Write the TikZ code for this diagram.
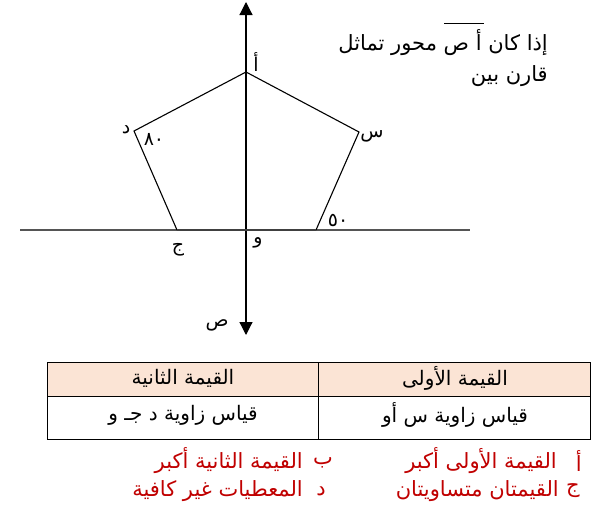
\documentclass[tikz,border=0pt]{standalone}
\usepackage{fontspec}
\usetikzlibrary{arrows.meta}
\TeXXeTstate=1
\newfontfamily\arabicfont[Script=Arabic]{DejaVu Sans}
\definecolor{hdr}{HTML}{FBE4D5}
\definecolor{optred}{HTML}{C00000}
\definecolor{axisgray}{HTML}{555555}
\tikzset{
  ar/.style={font=\arabicfont\fontsize{21}{24}\selectfont, inner sep=0pt},
  tab/.style={font=\arabicfont\fontsize{20}{23}\selectfont, inner sep=0pt},
  lbl/.style={font=\arabicfont\fontsize{19}{22}\selectfont, inner sep=0pt},
  opt/.style={font=\arabicfont\fontsize{21}{24}\selectfont, inner sep=0pt, text=optred, anchor=east},
  axis/.style={line width=1.2pt, -{Triangle[width=13pt,length=13pt]}},
  edge/.style={line width=1.1pt},
  cell/.style={draw, line width=0.9pt}
}
\begin{document}
\begin{tikzpicture}[x=1pt,y=-1pt]
\useasboundingbox (0,0) rectangle (611,517);
% axes
\coordinate (yb) at (246,230);
\coordinate (ytop) at (246,2);
\coordinate (ybot) at (246,335);
\coordinate (xl) at (20,230);
\coordinate (xr) at (470,230);
\draw[line width=1.3pt, axisgray] (xl) -- (xr);
\draw[axis] (yb) -- (ytop);
\draw[axis] (yb) -- (ybot);
% pentagon
\coordinate (A) at (246,72);
\coordinate (D) at (134,131);
\coordinate (S) at (359,132);
\coordinate (J) at (177,230);
\coordinate (E) at (316,230);
\draw[edge, line join=miter] (J) -- (D) -- (A) -- (S) -- (E);
\draw[line width=2.4pt, black!75] (J) -- (E);
% labels
\node[lbl] (lA) at (256,62) {\beginR أ\endR};
\node[lbl] (lD) at (126,130) {\beginR د\endR};
\node[lbl] (l80) at (154,139) {\beginR ٨٠\endR};
\node[lbl] (lS) at (372,136) {\beginR س\endR};
\node[lbl] (l50) at (338,220) {\beginR ٥٠\endR};
\node[lbl] (lJ) at (178,250) {\beginR ج\endR};
\node[lbl] (lW) at (258,243) {\beginR و\endR};
\node[lbl] (lSad) at (217,325) {\beginR ص\endR};
% question text
\node[ar, anchor=east] (q1) at (548,43) {\beginR إذا كان أ ص محور تماثل\endR};
\node[ar, anchor=east] (q2) at (548,76) {\beginR قارن بين\endR};
\coordinate (ol1) at (444,23);
\coordinate (ol2) at (484,23);
\draw[line width=0.9pt] (ol1) -- (ol2);
% table
\fill[hdr] (47,362) rectangle (590,396);
\draw[cell] (47,362) rectangle (590,439);
\draw[cell] (47,396) -- (590,396);
\draw[cell] (318,362) -- (318,439);
\node[tab] (h1) at (455,378) {\beginR القيمة الأولى\endR};
\node[tab] (h2) at (183,378) {\beginR القيمة الثانية\endR};
\node[tab] (c1) at (455,415) {\beginR قياس زاوية س أو\endR};
\node[tab] (c2) at (183,415) {\beginR قياس زاوية د جـ و\endR};
% options
\node[opt] (oa) at (582,461) {\beginR أ\endR};
\node[opt] (ta) at (557,461) {\beginR القيمة الأولى أكبر\endR};
\node[opt] (ob) at (333,463) {\beginR ب\endR};
\node[opt] (tb) at (303,461) {\beginR القيمة الثانية أكبر\endR};
\node[opt] (oc) at (580,491) {\beginR ج\endR};
\node[opt] (tc) at (559,491) {\beginR القيمتان متساويتان\endR};
\node[opt] (od) at (326,491) {\beginR د\endR};
\node[opt] (td) at (303,491) {\beginR المعطيات غير كافية\endR};
\end{tikzpicture}
\end{document}
